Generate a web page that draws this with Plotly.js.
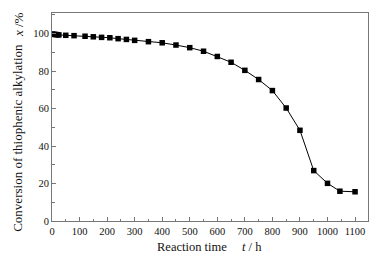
<!DOCTYPE html>
<html>
<head>
<meta charset="utf-8">
<script src="https://cdn.plot.ly/plotly-3.0.1.min.js"></script>
<style>html,body{margin:0;padding:0;background:#fff;}#chart{width:385px;height:263px;}</style>
</head>
<body>
<div id="chart"></div>
<script>
const reactionTime = [0, 5, 10, 15, 20, 25, 50, 80, 120, 150, 180, 210, 240, 270, 300, 350, 400, 450, 500, 550, 600, 650, 700, 750, 800, 850, 900, 950, 1000, 1045, 1100];
const conversion = [99.7, 99.6, 99.6, 99.5, 99.4, 99.3, 99.1, 98.9, 98.6, 98.3, 98.0, 97.8, 97.3, 96.9, 96.4, 95.7, 95.1, 93.9, 92.5, 90.6, 87.8, 84.7, 80.4, 75.5, 69.6, 60.3, 48.4, 26.9, 20.1, 15.9, 15.6];
const xTicks = [0, 100, 200, 300, 400, 500, 600, 700, 800, 900, 1000, 1100];
const yTicks = [0, 20, 40, 60, 80, 100];

const font = 'Liberation Serif, Times New Roman, serif';
const axisColor = '#777';

const trace = {
  x: reactionTime, y: conversion, type: 'scatter', mode: 'lines+markers',
  line: {color: '#000', width: 1},
  marker: {symbol: 'square', size: 5.5, color: '#000'},
  showlegend: false, hoverinfo: 'none'
};

const layout = {
  width: 385, height: 263,
  margin: {l: 52, r: 17, t: 13, b: 42},
  paper_bgcolor: '#fff', plot_bgcolor: '#fff',
  font: {family: font, color: '#111', size: 10.5},
  xaxis: {
    range: [0, 1147], tickvals: xTicks, ticktext: xTicks.map(String),
    ticks: 'inside', ticklen: 4, tickcolor: axisColor, tickwidth: 1,
    minor: {dtick: 50, ticks: 'inside', ticklen: 2.5, tickcolor: axisColor},
    showline: true, linecolor: axisColor, linewidth: 1, mirror: true,
    showgrid: false, zeroline: false,
    tickfont: {family: font, size: 10.5, color: '#111'}
  },
  yaxis: {
    range: [0, 111], tickvals: yTicks, ticktext: yTicks.map(String),
    ticks: 'inside', ticklen: 4, tickcolor: axisColor, tickwidth: 1,
    minor: {dtick: 10, ticks: 'inside', ticklen: 2.5, tickcolor: axisColor},
    showline: true, linecolor: axisColor, linewidth: 1, mirror: true,
    showgrid: false, zeroline: false,
    tickfont: {family: font, size: 10.5, color: '#111'}
  },
  annotations: [
    {text: 'Conversion of thiophenic alkylation', xref: 'paper', yref: 'paper', x: -0.1076, y: 0.40,
     textangle: -90, showarrow: false, font: {family: font, size: 13, color: '#111'}, xanchor: 'center', yanchor: 'middle'},
    {text: '<i>x</i> /%', xref: 'paper', yref: 'paper', x: -0.1076, y: 0.947,
     textangle: -90, showarrow: false, font: {family: font, size: 13, color: '#111'}, xanchor: 'center', yanchor: 'middle'},
    {text: 'Reaction time', xref: 'paper', yref: 'paper', x: 0.4446, y: -0.127,
     showarrow: false, font: {family: font, size: 12.5, color: '#111'}, xanchor: 'center', yanchor: 'middle'},
    {text: '<i>t</i> / h', xref: 'paper', yref: 'paper', x: 0.633, y: -0.127,
     showarrow: false, font: {family: font, size: 12.5, color: '#111'}, xanchor: 'center', yanchor: 'middle'}
  ]
};

Plotly.newPlot('chart', [trace], layout, {staticPlot: true, displayModeBar: false});
</script>
</body>
</html>
